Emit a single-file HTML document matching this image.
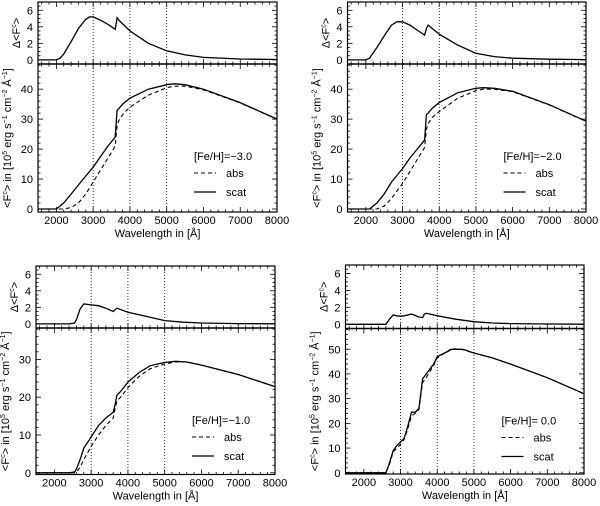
<!DOCTYPE html>
<html><head><meta charset="utf-8"><style>
body{margin:0;background:#fff}
svg{display:block;font-family:"Liberation Sans",sans-serif}
</style></head><body>
<svg id="fig" width="600" height="506" viewBox="0 0 600 506"></svg>
<script>
const wlScat1=[1500,1900,2000,2200,2400,2600,2800,3000,3200,3400,3600,3650,3700,3800,4000,4500,5000,5200,5500,6000,7000,8000];
const scat1=[0,0,0,2,5,8,11,14,17.5,21,24,33,33.5,35,37,40,41.5,41.8,41.5,40,35.5,30];
const abs1=[0,0,0,0,0.5,2,5,9,13,17,21,28,29.5,31.5,34,38,40.5,41,41,39.8,35.4,30];
const wlD1=[1500,2000,2100,2200,2400,2600,2800,2900,3000,3200,3400,3600,3650,3700,4000,4500,5000,5500,6000,7000,8000];
const d1=[0,0,0.2,0.7,2.2,3.8,4.9,5.2,5.2,4.8,4.3,3.7,5.1,4.8,3.5,2.0,1.1,0.6,0.3,0.1,0.05];

const wlScat2=[1500,2000,2100,2300,2500,2700,3000,3200,3400,3600,3650,3700,3800,4000,4500,5000,5200,5500,6000,7000,8000];
const scat2=[0,0,0,2,5,9,13.5,17,20,23,31.5,32,33.5,35.5,38.8,40.3,40.5,40.3,39.3,34.8,29.3];
const abs2=[0,0,0,0,1,3.5,8.5,12.5,16.5,20.5,26.5,28.5,30.5,32.5,37,39.5,40,40,39.2,34.7,29.3];
const wlD2=[1500,2000,2100,2300,2500,2700,2850,3000,3200,3400,3600,3650,3700,4000,4500,5000,5500,6000,7000,8000];
const d2=[0,0,0.2,1.5,2.9,4.2,4.6,4.6,4.2,3.6,3.0,3.8,4.2,3.1,1.8,0.8,0.4,0.2,0.08,0.03];

const wlScat3=[1500,2400,2550,2600,2700,2800,3000,3200,3400,3600,3650,3700,3800,4000,4300,4600,5000,5300,5600,6000,7000,8000];
const scat3=[0,0,0.2,1,3.5,6.5,9.5,12.5,14.5,16,18,20.5,21.5,24,26.5,28.3,29.2,29.5,29.3,28.5,26,22.8];
const abs3=[0,0,0,0.2,1.5,3.5,7,10,12.5,14.5,17,19,20,22.5,25.5,27.5,28.8,29.3,29.3,28.5,26,22.8];
const wlD3=[1500,2400,2550,2600,2700,2800,3000,3200,3400,3600,3700,4000,4500,5000,5500,6000,7000,8000];
const d3=[0,0,0.1,0.5,1.8,2.4,2.3,2.2,1.9,1.5,1.9,1.4,0.9,0.4,0.2,0.1,0.03,0.01];

const wlScat4=[1500,2500,2600,2700,2800,2900,3000,3100,3200,3300,3400,3500,3600,3700,3800,3900,4000,4200,4400,4700,5000,5500,6000,7000,8000];
const scat4=[0,0,0,4,9,11,12.5,14,19,24.5,24.5,26,38,40,42,44,47,48.5,50,50,48.5,46.5,44,38.5,32];
const abs4=[0,0,0,3.5,8.5,10,11.5,13.5,18,23,24,25.5,36.5,38.5,41,43.5,46.5,48.5,50.3,49.8,48.5,46.5,44,38.5,32];
const wlD4=[1500,2600,2650,2700,2800,2900,3000,3100,3300,3400,3500,3600,3650,3700,4000,4500,5000,5500,6000,7000,8000];
const d4=[0,0,0.3,0.6,1.1,1.0,0.95,1.0,1.2,1.05,0.85,0.8,1.2,1.3,1.0,0.6,0.3,0.15,0.08,0.03,0.01];

const labels=["[Fe/H]=\u2212-3.0","[Fe/H]=\u2212-2.0","[Fe/H]=\u2212-1.0","[Fe/H]= 0.0"];
const xTicks=[2000,3000,4000,5000,6000,7000,8000];
const upTicks=[0,2,4,6];
const lowTicks=[[0,10,20,30,40],[0,10,20,30,40],[0,10,20,30],[0,10,20,30,40,50]];
const lowRange=[[-1,48.4],[-1,48.4],[-0.45,38.3],[-0.5,58.4]];
const vLines=[3000,4000,5000];

const panels=[
 {x0:38,x1:277,t:2,m:64,b:212,wl:wlScat1,s:scat1,a:abs1,wd:wlD1,d:d1},
 {x0:347.5,x1:586,t:2,m:64,b:212,wl:wlScat2,s:scat2,a:abs2,wd:wlD2,d:d2},
 {x0:36,x1:275,t:266,m:328,b:474.5,wl:wlScat3,s:scat3,a:abs3,wd:wlD3,d:d3},
 {x0:345.5,x1:584,t:265,m:328.5,b:474,wl:wlScat4,s:scat4,a:abs4,wd:wlD4,d:d4}
];
const NS="http://www.w3.org/2000/svg";
const svg=document.getElementById('fig');
function mk(tag,at,parent){const e=document.createElementNS(NS,tag);for(const k in at)e.setAttribute(k,at[k]);(parent||svg).appendChild(e);return e;}
panels.forEach((p,i)=>{
 const g=mk('g',{});
 
 
 const X=w=>p.x0+(w-1500)/(6500)*(p.x1-p.x0);
 const Yu=v=>p.m-(v+0.5)/7.5*(p.m-p.t);
 const [lo,hi]=lowRange[i];
 const Yl=v=>p.b-(v-lo)/(hi-lo)*(p.b-p.m);
 // vertical dotted lines
 vLines.forEach(w=>{const l=mk('line',{x1:X(w),x2:X(w),y1:p.t,y2:p.b,stroke:'#000','stroke-width':0.8,'stroke-dasharray':'1,2'},g);
  
  });
 // frames
 mk('rect',{x:p.x0,y:p.t,width:p.x1-p.x0,height:p.b-p.t,fill:'none',stroke:'#000','stroke-width':1.2},g);
 mk('line',{x1:p.x0,x2:p.x1,y1:p.m,y2:p.m,stroke:'#000','stroke-width':1.5},g);
 // x ticks
 for(let w=1600;w<=8000;w+=100){
  const maj=w%1000===0||w===1500; const L=maj?5:2.5; if(w%500!==0&&w%100!==0)continue;
  if(!maj&&w%200!==0)continue;
  [p.b,p.m].forEach(yb=>mk('line',{x1:X(w),x2:X(w),y1:yb,y2:yb-L,stroke:'#000','stroke-width':0.8},g));
  [p.t,p.m].forEach(yt=>mk('line',{x1:X(w),x2:X(w),y1:yt,y2:yt+L,stroke:'#000','stroke-width':0.8},g));
 }
 xTicks.forEach(w=>{const t=mk('text',{x:X(w),y:p.b+12,'font-size':11,'text-anchor':'middle'},g);t.textContent=w;
  
  });
 const xt=mk('text',{x:(p.x0+p.x1)/2,y:p.b+25,'font-size':11,'text-anchor':'middle'},g);xt.textContent='Wavelength in [Å]';
 
 
 // upper y ticks
 for(let v=0;v<=7;v+=0.5){const maj=v%2===0;const L=maj?5:2.5;
  mk('line',{x1:p.x0,x2:p.x0+L,y1:Yu(v),y2:Yu(v),stroke:'#000','stroke-width':0.8},g);
  mk('line',{x1:p.x1,x2:p.x1-L,y1:Yu(v),y2:Yu(v),stroke:'#000','stroke-width':0.8},g);}
 upTicks.forEach(v=>{const t=mk('text',{x:p.x0-5,y:Yu(v)+4,'font-size':11,'text-anchor':'end'},g);t.textContent=v;
  
  });
 const step=lowTicks[i].length>5?2:(i===2?2:2);
 for(let v=0;v<=hi;v+=step){const maj=v%10===0;const L=maj?5:2.5;
  mk('line',{x1:p.x0,x2:p.x0+L,y1:Yl(v),y2:Yl(v),stroke:'#000','stroke-width':0.8},g);
  mk('line',{x1:p.x1,x2:p.x1-L,y1:Yl(v),y2:Yl(v),stroke:'#000','stroke-width':0.8},g);}
 lowTicks[i].forEach(v=>{const t=mk('text',{x:p.x0-5,y:Yl(v)+4,'font-size':11,'text-anchor':'end'},g);t.textContent=v;
  
  });
 // y titles
 const yu=mk('text',{transform:`translate(${p.x0-18},${(p.t+p.m)/2}) rotate(-90)`,'font-size':11,'text-anchor':'middle'},g);
 yu.innerHTML='Δ&lt;F<tspan font-size="7" dy="-4">c</tspan><tspan dy="4">&gt;</tspan>';
 
 
 const yl=mk('text',{transform:`translate(${p.x0-27},${(p.m+p.b)/2}) rotate(-90)`,'font-size':11,'text-anchor':'middle'},g);
 yl.innerHTML='&lt;F<tspan font-size="7" dy="-4">c</tspan><tspan dy="4">&gt; in [10</tspan><tspan font-size="7" dy="-4">5</tspan><tspan dy="4"> erg s</tspan><tspan font-size="7" dy="-4">−1</tspan><tspan dy="4"> cm</tspan><tspan font-size="7" dy="-4">−2</tspan><tspan dy="4"> Å</tspan><tspan font-size="7" dy="-4">−1</tspan><tspan dy="4">]</tspan>';
 
 
 // curves
 const pathOf=(xs,ys,Y)=>xs.map((w,k)=>(k?'L':'M')+X(w).toFixed(1)+','+Y(ys[k]).toFixed(1)).join('');
 const dl=mk('path',{d:pathOf(p.wd,p.d,Yu),fill:'none',stroke:'#000','stroke-width':1.3},g);
 
 
 const al=mk('path',{d:pathOf(p.wl,p.a,Yl),fill:'none',stroke:'#000','stroke-width':1.1,'stroke-dasharray':'4,3'},g);
 
 
 const sl=mk('path',{d:pathOf(p.wl,p.s,Yl),fill:'none',stroke:'#000','stroke-width':1.3},g);
 
 
 // legend
 const lx=p.x0+156, ly=p.m+96;
 const lt=mk('text',{x:lx,y:ly,'font-size':11},g);lt.textContent=labels[i].replace('\u2212-','=-').replace('==','=');
 lt.textContent=['[Fe/H]=−3.0','[Fe/H]=−2.0','[Fe/H]=−1.0','[Fe/H]= 0.0'][i];
 
 
 mk('line',{x1:lx,x2:lx+22,y1:ly+13,y2:ly+13,stroke:'#000','stroke-width':1.1,'stroke-dasharray':'4,3'},g);
 const la=mk('text',{x:lx+32,y:ly+17,'font-size':11},g);la.textContent='abs';
 
 
 mk('line',{x1:lx,x2:lx+22,y1:ly+32,y2:ly+32,stroke:'#000','stroke-width':1.3},g);
 const ls=mk('text',{x:lx+32,y:ly+36,'font-size':11},g);ls.textContent='scat';
 
 
});
</script>
</body></html>
